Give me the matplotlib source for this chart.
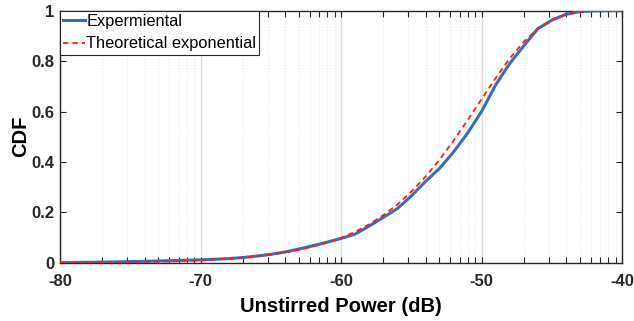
import numpy as np
import matplotlib
matplotlib.use("Agg")
import matplotlib.pyplot as plt

plt.rcParams['font.family'] = ['Liberation Sans', 'DejaVu Sans']
plt.rcParams['axes.unicode_minus'] = False

x_exp = [-80, -77, -75, -72, -70, -68, -67, -66, -65, -64, -63, -62, -61, -60,
         -59, -58, -57, -56, -55, -54, -53, -52, -51, -50, -49, -48, -47, -46,
         -45, -44, -43, -42, -41, -40]
cdf_exp = [0.001, 0.003, 0.005, 0.009, 0.012, 0.017, 0.021, 0.027, 0.034, 0.043,
           0.055, 0.068, 0.082, 0.097, 0.114, 0.146, 0.180, 0.215, 0.265, 0.322,
           0.374, 0.439, 0.514, 0.600, 0.705, 0.790, 0.860, 0.928, 0.962, 0.985,
           0.996, 0.999, 1.0, 1.0]

# theoretical exponential CDF
x_th = [-80, -75, -72, -70, -67, -65, -63, -61, -60, -59, -58, -57, -56, -55,
        -54, -53, -52, -51, -50, -49, -48, -47, -46, -45, -44, -43, -42, -41, -40]
cdf_th = [0.001, 0.003, 0.006, 0.010, 0.021, 0.033, 0.051, 0.080, 0.099, 0.123,
          0.153, 0.189, 0.231, 0.282, 0.341, 0.408, 0.484, 0.565, 0.649, 0.732,
          0.810, 0.876, 0.928, 0.964, 0.985, 0.995, 0.999, 1.0, 1.0]

xticks = [-80, -70, -60, -50, -40]
yticks = [0, 0.2, 0.4, 0.6, 0.8, 1]
ytick_labels = ['0', '0.2', '0.4', '0.6', '0.8', '1']

fig = plt.figure(figsize=(6.34, 3.21), dpi=100)
ax = fig.add_axes([0.0946, 0.181, 0.8866, 0.786])

dark = '#262626'
ax.plot(x_exp, cdf_exp, color='#3470b3', lw=2.2, label='Expermiental', zorder=3)
ax.plot(x_th, cdf_th, color='#ff1a1a', lw=1.3, ls=(0, (3.0, 2.2)),
        label='Theoretical exponential', zorder=4)

ax.set_xlim(-80, -40)
ax.set_ylim(0, 1)

# log-like minor ticks inside each 10 dB decade
minor = [d + 10 * np.log10(k) for d in [-80, -70, -60, -50] for k in range(2, 10)]
ax.set_xticks(xticks)
ax.set_xticks(minor, minor=True)
ax.set_yticks(yticks)
ax.set_yticklabels(ytick_labels)

ax.grid(which='major', axis='x', color='#dcdcdc', lw=1.0, ls='-')
ax.grid(which='minor', axis='x', color='#e6e6e6', lw=0.8, ls=':')
ax.set_axisbelow(True)

ax.tick_params(which='both', direction='in', top=True, right=True,
               colors=dark, labelcolor=dark, labelsize=12)
ax.tick_params(which='major', length=4, width=0.8)
ax.tick_params(which='minor', length=4, width=0.8)
ax.tick_params(axis='x', which='major', pad=8)
ax.tick_params(axis='y', which='major', pad=4)
for lab in ax.get_xticklabels() + ax.get_yticklabels():
    lab.set_fontweight('bold')
for s in ax.spines.values():
    s.set_color(dark)
    s.set_linewidth(1.0)

ax.set_xlabel('Unstirred Power (dB)', fontsize=14.5, fontweight='bold', color='black', labelpad=6)
ax.set_ylabel('CDF', fontsize=14.5, fontweight='bold', color='black', labelpad=1)

leg = ax.legend(loc='upper left', fontsize=11.8, frameon=True, fancybox=False,
                borderpad=0.2, labelspacing=0.45, handlelength=1.3,
                handletextpad=0.1, borderaxespad=0.0)
leg.get_frame().set_edgecolor(dark)
leg.get_frame().set_linewidth(0.8)
leg.get_frame().set_alpha(1)

fig.savefig('out.png', dpi=100)
